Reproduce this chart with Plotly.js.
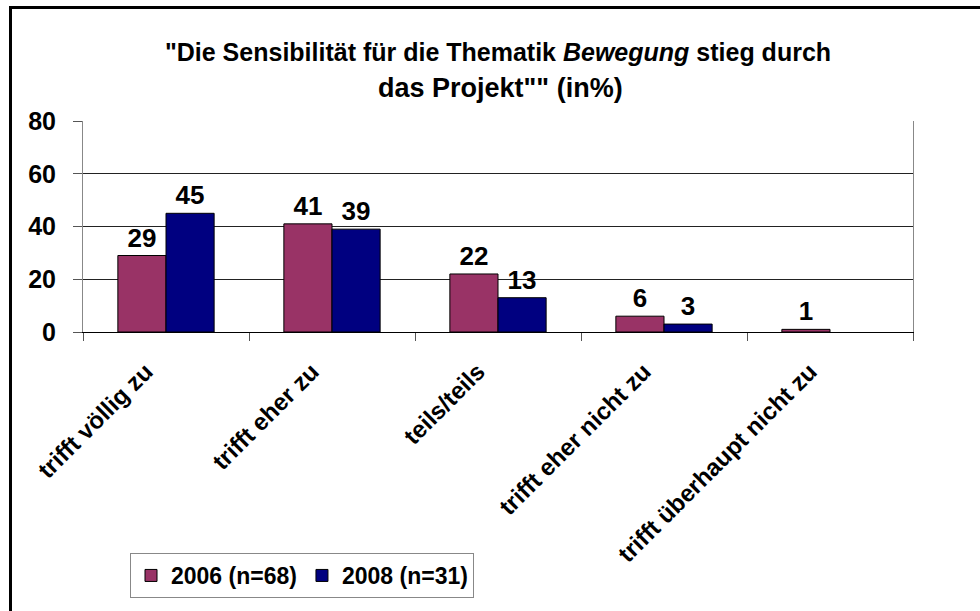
<!DOCTYPE html>
<html>
<head>
<meta charset="utf-8">
<script src="https://cdn.plot.ly/plotly-3.0.1.min.js"></script>
<style>
  html, body { margin: 0; padding: 0; background: #fff; }
  #wrap { position: relative; width: 980px; height: 611px; overflow: hidden; }
  #chart { position: absolute; left: 0; top: 0; width: 980px; height: 611px; }
  #frame { position: absolute; left: 9px; top: 6px; width: 990px; height: 620px;
           border-left: 3px solid #000; border-top: 3px solid #000; pointer-events: none; }
</style>
</head>
<body>
<div id="wrap">
  <div id="chart"></div>
  <div id="frame"></div>
</div>
<script>
const categories = ["trifft völlig zu", "trifft eher zu", "teils/teils", "trifft eher nicht zu", "trifft überhaupt nicht zu"];
const values2006 = [29, 41, 22, 6, 1];
const values2008 = [45, 39, 13, 3, null];
const seriesNames = ["2006 (n=68)", "2008 (n=31)"];
const yTicks = [0, 20, 40, 60, 80];
const titleLine1 = '"Die Sensibilität für die Thematik <i>Bewegung</i> stieg durch';
const titleLine2 = 'das Projekt"" (in%)';

const FONT = "Liberation Sans, Arial, sans-serif";

const traces = [
  {
    type: "bar", name: seriesNames[0], x: categories, y: values2006,
    marker: { color: "#993366", line: { color: "#000", width: 1 } },
    text: values2006.map(v => v == null ? "" : String(v)),
    textposition: "outside", cliponaxis: false,
    textfont: { family: FONT, size: 26, color: "#000", weight: "bold" }
  },
  {
    type: "bar", name: seriesNames[1], x: categories, y: values2008,
    marker: { color: "#000080", line: { color: "#000", width: 1 } },
    text: values2008.map(v => v == null ? "" : String(v)),
    textposition: "outside", cliponaxis: false,
    textfont: { family: FONT, size: 26, color: "#000", weight: "bold" }
  }
];

const layout = {
  width: 980, height: 611,
  margin: { l: 83, r: 67, t: 121, b: 279 },
  paper_bgcolor: "#fff", plot_bgcolor: "#fff",
  barmode: "group", bargap: 0.42, bargroupgap: 0,
  font: { family: FONT, color: "#000" },
  title: {
    text: titleLine1,
    x: 0.5, xref: "paper", xanchor: "center",
    y: 1 - 52 / 611, yref: "container", yanchor: "middle",
    font: { family: FONT, size: 25, color: "#000", weight: "bold" }
  },
  annotations: [{
    text: titleLine2, xref: "paper", yref: "paper",
    x: 0.503, y: (332 - 88) / 211, xanchor: "center", yanchor: "middle",
    showarrow: false,
    font: { family: FONT, size: 27, color: "#000", weight: "bold" }
  }],
  xaxis: {
    type: "category",
    tickson: "boundaries", ticks: "outside", ticklen: 8, tickcolor: "#555",
    tickangle: -45,
    tickfont: { family: FONT, size: 24, color: "#000", weight: "bold" },
    ticklabelshift: -20, ticklabelstandoff: 15,
    showline: true, linecolor: "#000", linewidth: 1,
    showgrid: false, zeroline: false
  },
  yaxis: {
    range: [0, 80], tickvals: yTicks, ticktext: yTicks.map(String),
    ticks: "outside", ticklen: 9, tickcolor: "#555",
    tickfont: { family: FONT, size: 25, color: "#000", weight: "bold" },
    showline: true, linecolor: "#888", linewidth: 1, mirror: true,
    showgrid: true, gridcolor: "#222", gridwidth: 1,
    zeroline: false, ticklabelstandoff: 12
  },
  legend: {
    orientation: "h", x: (130 - 83) / 830, xanchor: "left",
    y: (332 - 553) / 211, yanchor: "top",
    bordercolor: "#888", borderwidth: 1, bgcolor: "#fff",
    font: { family: FONT, size: 23, color: "#000", weight: "bold" },
    itemwidth: 30,
    traceorder: "normal"
  },
  showlegend: true
};

Plotly.newPlot("chart", traces, layout, { displayModeBar: false, staticPlot: true });
</script>
</body>
</html>
